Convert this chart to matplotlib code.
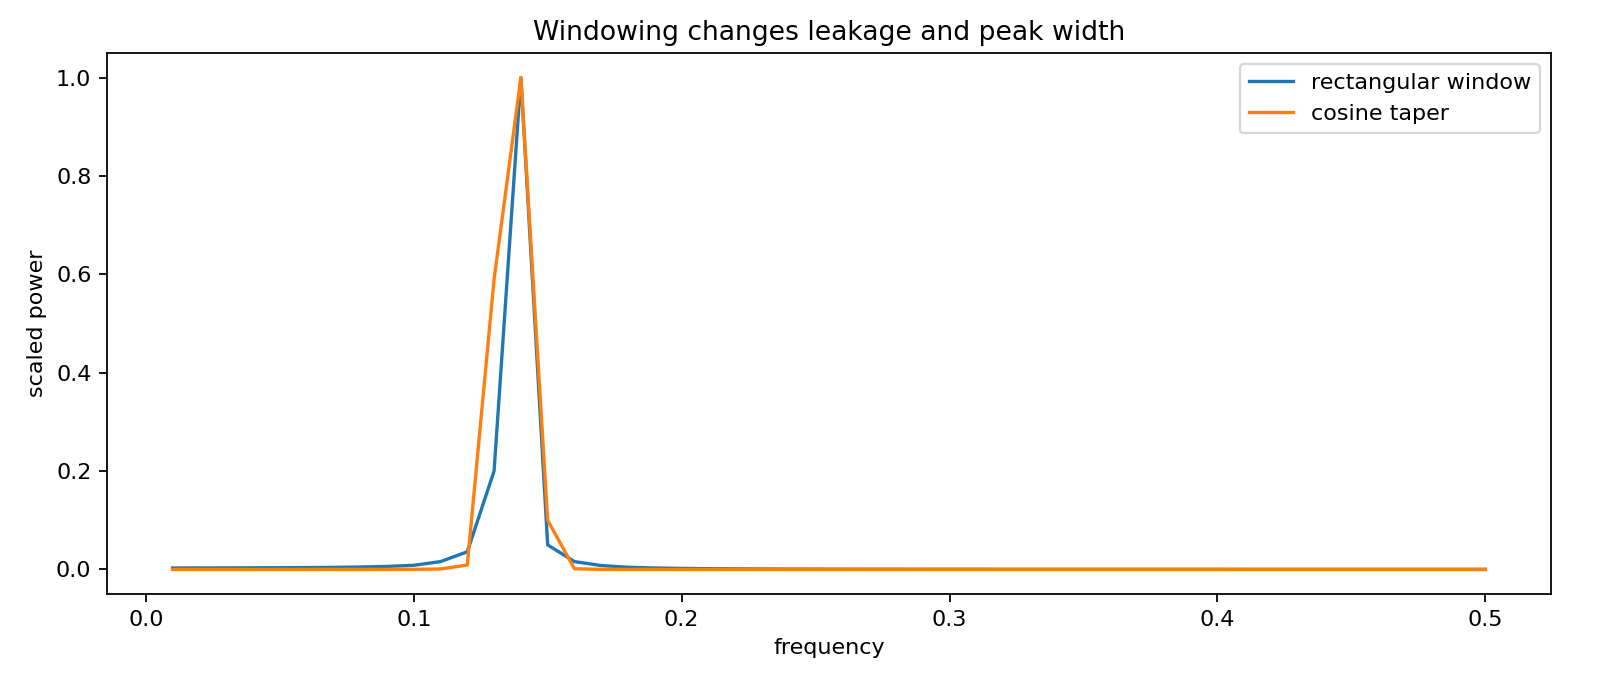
import matplotlib
matplotlib.use("Agg")
import matplotlib.pyplot as plt
import numpy as np

# frequencies 0.01 .. 0.50
freq = [round(0.01 * k, 2) for k in range(1, 51)]

rect_power = [
    0.0030, 0.0031, 0.0032, 0.0034, 0.0036, 0.0039, 0.0043, 0.0050, 0.0062, 0.0085,
    0.0160, 0.0360, 0.2000, 1.0000, 0.0500, 0.0160, 0.0080, 0.0045, 0.0030, 0.0022,
    0.0016, 0.0012, 0.0010, 0.0008, 0.0007, 0.0006, 0.0005, 0.0005, 0.0004, 0.0004,
    0.0004, 0.0003, 0.0003, 0.0003, 0.0003, 0.0003, 0.0003, 0.0003, 0.0003, 0.0003,
    0.0002, 0.0002, 0.0002, 0.0002, 0.0002, 0.0002, 0.0002, 0.0002, 0.0002, 0.0002,
]

taper_power = [
    0.0001, 0.0001, 0.0001, 0.0001, 0.0001, 0.0001, 0.0001, 0.0001, 0.0002, 0.0003,
    0.0010, 0.0090, 0.5900, 1.0000, 0.1000, 0.0015, 0.0002, 0.0001, 0.0001, 0.0001,
    0.0001, 0.0001, 0.0001, 0.0001, 0.0001, 0.0001, 0.0001, 0.0001, 0.0001, 0.0001,
    0.0001, 0.0001, 0.0001, 0.0001, 0.0001, 0.0001, 0.0001, 0.0001, 0.0001, 0.0001,
    0.0001, 0.0001, 0.0001, 0.0001, 0.0001, 0.0001, 0.0001, 0.0001, 0.0001, 0.0001,
]

fig, ax = plt.subplots(figsize=(10.006, 4.375), dpi=160)
ax.plot(freq, rect_power, label="rectangular window")
ax.plot(freq, taper_power, label="cosine taper")
ax.set_xlabel("frequency")
ax.set_ylabel("scaled power")
ax.set_title("Windowing changes leakage and peak width")
ax.legend(loc="upper right")
fig.subplots_adjust(left=0.0668, right=0.9688, top=0.9243, bottom=0.1514)
fig.savefig("out.png")
